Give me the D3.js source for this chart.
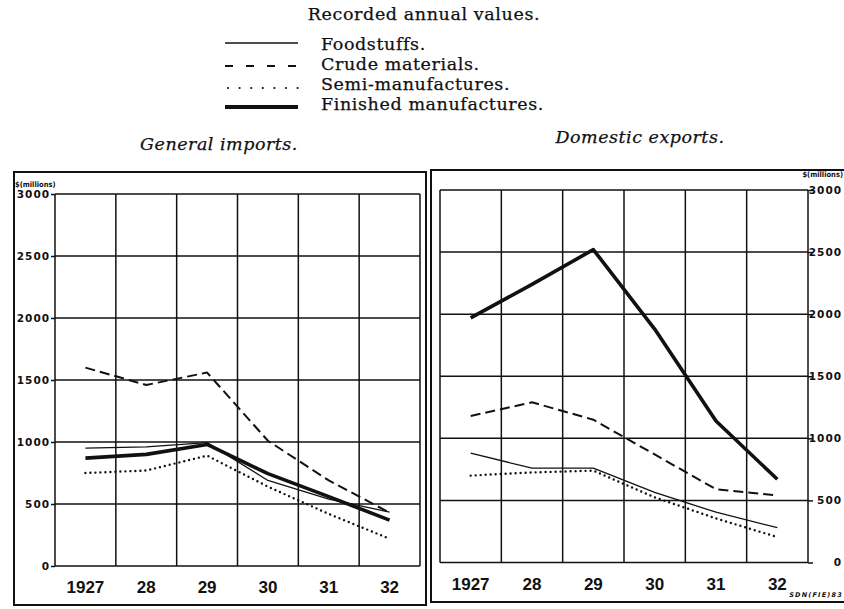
<!DOCTYPE html>
<html><head><meta charset="utf-8">
<script src="https://cdn.jsdelivr.net/npm/d3@7"></script>
<style>
html,body{margin:0;padding:0;background:#fff;}
svg{display:block;}
.serif{font-family:"DejaVu Serif","Liberation Serif",serif;fill:#111;stroke:#111;stroke-width:0.25px;}
.ylab{font-family:"DejaVu Sans",sans-serif;font-weight:bold;font-size:10.5px;letter-spacing:1px;fill:#111;}
.xlab{font-family:"Liberation Sans",Arial,sans-serif;font-weight:bold;font-size:17px;fill:#111;}
</style></head>
<body>
<svg id="c" width="844" height="609"></svg>
<script>
// ---- data ----
const years = ["1927", "28", "29", "30", "31", "32"];
const yTicks = [0, 500, 1000, 1500, 2000, 2500, 3000];
const seriesNames = ["Foodstuffs.", "Crude materials.", "Semi-manufactures.", "Finished manufactures."];

const importsFoodstuffs = [950, 960, 995, 690, 540, 435];
const importsCrude      = [1600, 1460, 1560, 1010, 690, 430];
const importsSemi       = [750, 770, 890, 640, 420, 220];
const importsFinished   = [870, 900, 980, 745, 560, 370];

const exportsFoodstuffs = [880, 760, 760, 565, 405, 280];
const exportsCrude      = [1180, 1290, 1150, 870, 590, 540];
const exportsSemi       = [700, 725, 740, 525, 355, 205];
const exportsFinished   = [1970, 2240, 2520, 1880, 1140, 670];

const titleText = "Recorded annual values.";
const importsTitle = "General imports.";
const exportsTitle = "Domestic exports.";
const unitText = "$(millions)";
const sourceText = "SDN(FIE)83";

// ---- styles ----
const styles = [
  {w: 1.3, dash: null, cap: "butt"},
  {w: 2, dash: "10,5", cap: "butt"},
  {w: 2.4, dash: "0,5", cap: "round"},
  {w: 3.6, dash: null, cap: "butt"}
];
const legendStyles = [
  {w: 1.3, dash: null, cap: "butt"},
  {w: 1.8, dash: "8,13", cap: "butt"},
  {w: 2.2, dash: "0,11.6", cap: "round"},
  {w: 4, dash: null, cap: "butt"}
];

const svg = d3.select("#c");

// title
svg.append("text").attr("class", "serif").attr("x", 424).attr("y", 20)
  .attr("text-anchor", "middle").style("font-size", "17.5px").style("letter-spacing", "0.6px").text(titleText);

// legend
const legY = [43, 66, 88, 107];
const legTextY = [50, 70, 90, 110];
seriesNames.forEach((n, i) => {
  const s = legendStyles[i];
  svg.append("line").attr("x1", i === 2 ? 228 : 225).attr("x2", 298)
    .attr("y1", legY[i]).attr("y2", legY[i])
    .attr("stroke", "#111").attr("stroke-width", s.w)
    .attr("stroke-dasharray", s.dash).attr("stroke-linecap", s.cap);
  svg.append("text").attr("class", "serif").attr("x", 321).attr("y", legTextY[i])
    .style("font-size", "17.5px").style("letter-spacing", "0.6px").text(n);
});

function panel(cfg) {
  const g = svg.append("g");
  // outer box
  g.append("rect").attr("x", cfg.box[0]).attr("y", cfg.box[1])
    .attr("width", cfg.box[2] - cfg.box[0]).attr("height", cfg.box[3] - cfg.box[1])
    .attr("fill", "none").attr("stroke", "#111").attr("stroke-width", 2);

  const x = d3.scaleBand().domain(years).range([cfg.x0, cfg.x1]).paddingInner(0).paddingOuter(0);
  const y = d3.scaleLinear().domain([0, 3000]).range([cfg.y1, cfg.y0]);

  // vertical grid
  const bounds = years.map(d => x(d)).concat([x(years[years.length - 1]) + x.bandwidth()]);
  g.selectAll(".vg").data(bounds).join("line")
    .attr("x1", d => d).attr("x2", d => d).attr("y1", y(0)).attr("y2", y(3000))
    .attr("stroke", "#111").attr("stroke-width", 1.5);

  // horizontal grid + y axis labels
  let axis;
  if (cfg.side === "left") {
    axis = d3.axisLeft(y).tickValues(yTicks).tickFormat(d3.format("d")).tickSize(4).tickPadding(1);
  } else {
    axis = d3.axisRight(y).tickValues(yTicks).tickFormat(d3.format("d")).tickSize(5).tickPadding(2);
  }
  const ag = g.append("g").attr("transform", `translate(${cfg.side === "left" ? cfg.x0 : cfg.x1},0)`).call(axis);
  ag.select(".domain").remove();
  ag.selectAll(".tick line").attr("stroke", "#111").attr("stroke-width", 1.5);
  ag.selectAll(".tick text").attr("class", "ylab").attr("fill", null);
  if (cfg.side === "right") {
    ag.selectAll(".tick text").attr("text-anchor", "end").attr("x", cfg.rightLabX);
  }
  g.selectAll(".hg").data(yTicks).join("line")
    .attr("x1", cfg.x0).attr("x2", cfg.x1).attr("y1", d => y(d)).attr("y2", d => y(d))
    .attr("stroke", "#111").attr("stroke-width", 1.5);

  // unit label
  g.append("text").attr("x", cfg.unitX).attr("y", cfg.unitY)
    .attr("text-anchor", cfg.side === "left" ? "start" : "end")
    .style("font-family", "'DejaVu Sans Condensed','DejaVu Sans',sans-serif")
    .style("font-weight", "bold").style("font-size", "7.5px").attr("fill", "#111").text(unitText);

  // x labels
  const xa = d3.axisBottom(x).tickSize(0).tickPadding(0);
  const xg = g.append("g").attr("transform", `translate(0,${cfg.xLabY})`).call(xa);
  xg.select(".domain").remove();
  xg.selectAll(".tick text").attr("class", "xlab").attr("fill", null).attr("dy", 0).attr("y", 0);

  // subtitle
  svg.append("text").attr("class", "serif").attr("x", cfg.subX).attr("y", cfg.subY)
    .attr("text-anchor", "middle").style("font-size", "17.5px").style("font-style", "italic")
    .style("letter-spacing", "0.5px").text(cfg.title);

  // series lines
  const line = d3.line().x((d, i) => x(years[i]) + x.bandwidth() / 2).y(d => y(d));
  cfg.series.forEach((vals, i) => {
    const s = styles[i];
    g.append("path").datum(vals).attr("d", line)
      .attr("fill", "none").attr("stroke", "#111").attr("stroke-width", s.w)
      .attr("stroke-dasharray", s.dash).attr("stroke-linecap", s.cap)
      .attr("stroke-linejoin", "round");
  });
}

panel({
  box: [14, 172, 426, 605], x0: 55, x1: 420, y0: 194, y1: 566, side: "left",
  unitX: 15, unitY: 187, xLabY: 593, subX: 219, subY: 150, title: importsTitle,
  series: [importsFoodstuffs, importsCrude, importsSemi, importsFinished]
});
panel({
  box: [431, 170, 852, 602], x0: 440, x1: 808, y0: 190, y1: 562.5, side: "right",
  unitX: 843, unitY: 177, xLabY: 590, subX: 640, subY: 143, title: exportsTitle,
  rightLabX: 34,
  series: [exportsFoodstuffs, exportsCrude, exportsSemi, exportsFinished]
});

svg.append("text").attr("x", 843).attr("y", 597).attr("text-anchor", "end")
  .style("font-family", "'DejaVu Sans',sans-serif").style("font-style", "italic")
  .style("font-weight", "bold").style("font-size", "6.5px").style("letter-spacing", "1.2px")
  .attr("fill", "#111").text(sourceText);
</script>
</body></html>
